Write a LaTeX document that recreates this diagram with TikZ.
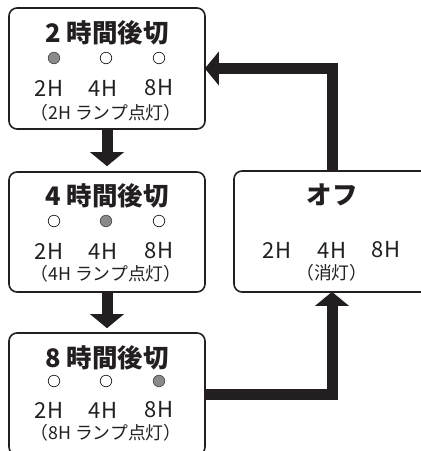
\documentclass[tikz,border=0pt]{standalone}
\usepackage{fontspec}
\setmainfont{Noto Sans CJK JP}
\usetikzlibrary{arrows.meta}
\definecolor{ink}{HTML}{231F20}
\definecolor{lamp}{HTML}{8A8A8A}
\tikzset{
  box/.style={draw=ink, line width=1.6pt, rounded corners=8pt, fill=white, inner sep=0pt},
  ttl/.style={text=ink, inner sep=0pt, font=\fontsize{25.5}{28}\selectfont\bfseries},
  lbl/.style={text=ink, inner sep=0pt, font=\fontsize{22}{24}\selectfont},
  sub/.style={text=ink, inner sep=0pt, font=\fontsize{17.8}{19}\selectfont},
  lampoff/.style={circle, draw=ink, line width=0.7pt, fill=white, minimum size=11.5pt, inner sep=0pt},
  lampon/.style={circle, draw=ink!80, line width=0.7pt, fill=lamp, minimum size=11.5pt, inner sep=0pt},
  flow/.style={draw=ink, line width=11pt, -{Triangle[length=14pt,width=33pt]}}
}
\begin{document}
\begin{tikzpicture}[x=1pt,y=-1pt]
\path[use as bounding box] (0,0) rectangle (421,451);
\clip (0,0) rectangle (421,451);
% boxes
\node[box, minimum width=196pt, minimum height=121pt] (b1) at (107,68.5) {};
\node[box, minimum width=196pt, minimum height=120pt] (b2) at (107,232) {};
\node[box, minimum width=196pt, minimum height=122pt] (b3) at (107,394) {};
\node[box, minimum width=196pt, minimum height=121pt] (off) at (332,231.5) {};
% connectors
\draw[flow, shorten >=5pt] (b1.south) -- (b2.north);
\draw[flow, shorten >=4pt] (b2.south) -- (b3.north);
\draw[flow, shorten >=-1pt] (b3.east) -| (off.south);
\draw[flow, shorten >=-1pt] (off.north) |- (b1.east);
% box 1
\node[ttl] (t1) at (107,33) {2 時間後切};
\node[lampon] (c11) at (54,58) {};
\node[lampoff] (c12) at (106,58) {};
\node[lampoff] (c13) at (159,58) {};
\node[lbl] (l11) at (49,88) {2H};
\node[lbl] (l12) at (103,88) {4H};
\node[lbl] (l13) at (159,88) {8H};
\node[sub] (s1) at (106,113) {（2H ランプ点灯）};
% box 2
\node[ttl] (t2) at (107,196) {4 時間後切};
\node[lampoff] (c21) at (54,221) {};
\node[lampon] (c22) at (106,221) {};
\node[lampoff] (c23) at (159,221) {};
\node[lbl] (l21) at (49,251) {2H};
\node[lbl] (l22) at (103,251) {4H};
\node[lbl] (l23) at (159,251) {8H};
\node[sub] (s2) at (106,274) {（4H ランプ点灯）};
% box 3
\node[ttl] (t3) at (107,358) {8 時間後切};
\node[lampoff] (c31) at (54,381) {};
\node[lampoff] (c32) at (106,381) {};
\node[lampon] (c33) at (159,381) {};
\node[lbl] (l31) at (49,410) {2H};
\node[lbl] (l32) at (103,410) {4H};
\node[lbl] (l33) at (159,410) {8H};
\node[sub] (s3) at (106,433) {（8H ランプ点灯）};
% off box
\node[ttl] (t4) at (332,195) {オフ};
\node[lbl] (l41) at (277,250) {2H};
\node[lbl] (l42) at (332,250) {4H};
\node[lbl] (l43) at (386,250) {8H};
\node[sub] (s4) at (332,273) {（消灯）};
\end{tikzpicture}
\end{document}
